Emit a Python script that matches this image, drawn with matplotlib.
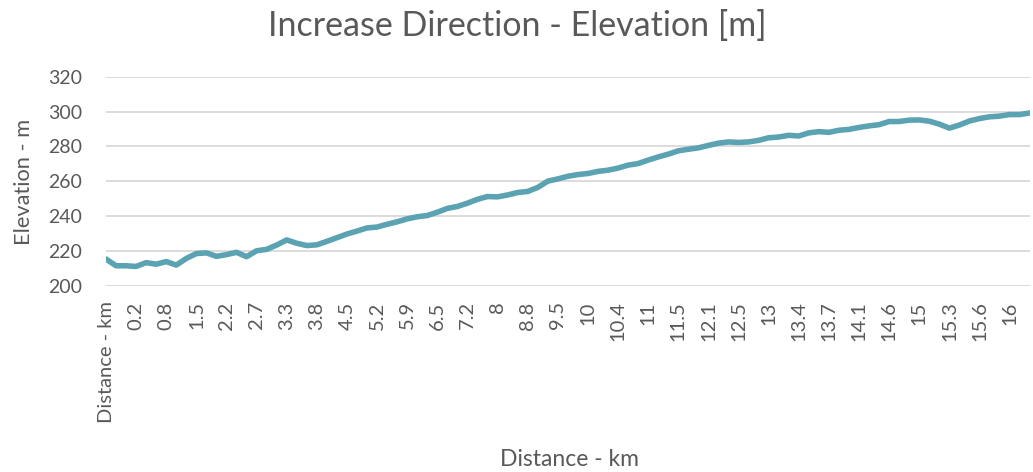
import matplotlib
matplotlib.use("Agg")
import matplotlib.pyplot as plt

plt.rcParams['font.family'] = ['Lato', 'DejaVu Sans']

title = "Increase Direction - Elevation [m]"
x_title = "Distance - km"
y_title = "Elevation - m"

# tick labels shown on the category axis (every 3rd sampled point)
tick_labels = ["Distance - km", "0.2", "0.8", "1.5", "2.2", "2.7", "3.3", "3.8", "4.5",
               "5.2", "5.9", "6.5", "7.2", "8", "8.8", "9.5", "10", "10.4", "11",
               "11.5", "12.1", "12.5", "13", "13.4", "13.7", "14.1", "14.6", "15",
               "15.3", "15.6", "16"]
label_step = 3

# elevation values
elevation = [215.5, 211.6, 211.6, 211.2, 213.4, 212.5, 214.0, 212.0, 215.8, 218.6,
             219.0, 217.0, 218.0, 219.3, 216.8, 220.2, 221.0, 223.5, 226.4, 224.5,
             223.2, 223.6, 225.6, 227.7, 229.8, 231.5, 233.3, 233.8, 235.4, 236.8,
             238.5, 239.7, 240.4, 242.3, 244.5, 245.6, 247.5, 249.7, 251.3, 251.1,
             252.2, 253.6, 254.2, 256.5, 260.1, 261.4, 262.9, 263.9, 264.5, 265.7,
             266.4, 267.6, 269.3, 270.2, 272.2, 274.0, 275.6, 277.5, 278.4, 279.2,
             280.6, 281.9, 282.6, 282.3, 282.6, 283.5, 285.0, 285.4, 286.4, 286.0,
             287.8, 288.5, 288.1, 289.3, 289.8, 290.9, 291.8, 292.5, 294.3, 294.3,
             295.1, 295.2, 294.5, 292.8, 290.5, 292.3, 294.6, 296.0, 297.0, 297.4,
             298.3, 298.3, 299.2]

text_color = "#595959"
grid_color = "#d9d9d9"
line_color = "#5ba3b2"

W, H = 1033, 472
fig = plt.figure(figsize=(W / 100, H / 100), dpi=100)
ax = fig.add_axes([106 / W, 1 - 286 / H, (1029.7 - 106) / W, (286 - 76.7) / H])

xs = list(range(len(elevation)))
ax.plot(xs, elevation, color=line_color, linewidth=4.0, solid_capstyle='round',
        solid_joinstyle='round', zorder=3)

ax.set_xlim(0, len(elevation) - 1)
ax.set_ylim(200, 320)
ax.set_yticks(range(200, 321, 20))
ax.set_xticks([i * label_step for i in range(len(tick_labels))])
ax.set_xticklabels(tick_labels, rotation=90, ha='center', va='top')

ax.grid(axis='y', color=grid_color, linewidth=1.3, zorder=0)
ax.grid(axis='x', visible=False)
for s in ax.spines.values():
    s.set_visible(False)
ax.tick_params(axis='both', length=0, colors=text_color)
ax.tick_params(axis='y', pad=17, labelsize=14)
ax.tick_params(axis='x', pad=11, labelsize=14.5)
for lab in ax.get_xticklabels() + ax.get_yticklabels():
    lab.set_color(text_color)

fig.text(24 / W, 1 - 182 / H, y_title, rotation=90, ha='center', va='center',
         fontsize=15.7, color=text_color)
fig.text(569 / W, 1 - 459 / H, x_title, ha='center', va='center',
         fontsize=16.5, color=text_color)
fig.text(517 / W, 1 - 26 / H, title, ha='center', va='center',
         fontsize=24.5, color=text_color)

fig.savefig("out.png", dpi=100, facecolor="white")
